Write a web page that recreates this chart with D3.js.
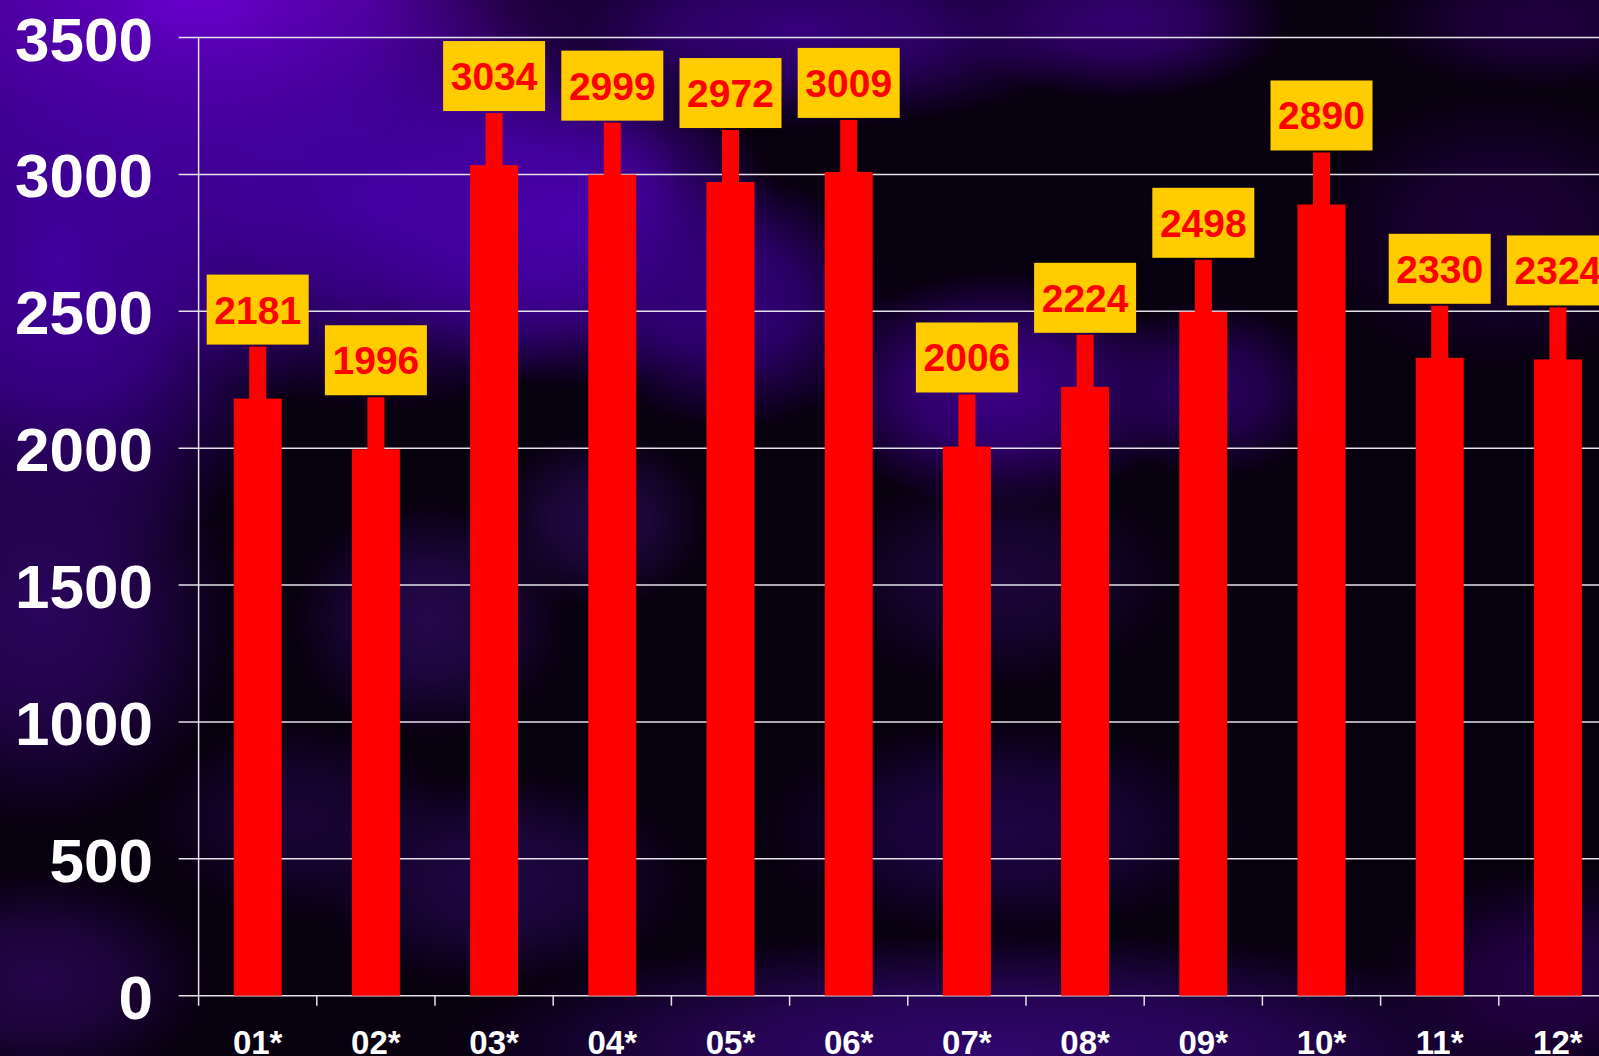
<!DOCTYPE html>
<html>
<head>
<meta charset="utf-8">
<script src="https://cdn.jsdelivr.net/npm/d3@7"></script>
<style>
  html, body { margin: 0; padding: 0; background: #000; overflow: hidden; }
  svg { display: block; }
  text { font-family: "Liberation Sans", Arial, sans-serif; font-weight: bold; }
</style>
</head>
<body>
<div id="chart"></div>
<script>
const months = ["01*", "02*", "03*", "04*", "05*", "06*", "07*", "08*", "09*", "10*", "11*", "12*"];
const values = [2181, 1996, 3034, 2999, 2972, 3009, 2006, 2224, 2498, 2890, 2330, 2324];
const yTicks = [0, 500, 1000, 1500, 2000, 2500, 3000, 3500];
const errorAmount = 190;

const width = 1599, height = 1056;

// background clouds: cx, cy, rx, ry, colour
const clouds = [
    [180, 0, 420, 260, "#6a00d0"],
    [60, 260, 260, 320, "#4200a0"],
    [380, 200, 300, 210, "#4400a4"],
    [570, 220, 210, 170, "#4a00ac"],
    [730, 300, 160, 130, "#34007e"],
    [800, 30, 300, 100, "#36007c"],
    [1120, 20, 170, 80, "#340072"],
    [1540, 20, 170, 70, "#200040"],
    [1000, 390, 190, 120, "#3c0088"],
    [1210, 390, 120, 90, "#2a005e"],
    [1500, 230, 190, 140, "#1c0038"],
    [40, 610, 200, 220, "#2a055c"],
    [430, 620, 140, 120, "#24084c"],
    [600, 520, 110, 90, "#220844"],
    [1000, 580, 180, 110, "#1c053a"],
    [40, 980, 170, 110, "#24054a"],
    [500, 880, 190, 110, "#200644"],
    [1000, 830, 240, 110, "#1e0444"],
    [1000, 1050, 560, 120, "#30066c"],
    [1550, 980, 170, 110, "#240046"],
    [300, 820, 150, 100, "#1a0436"]
];

const svg = d3.select("#chart").append("svg")
    .attr("width", width)
    .attr("height", height);

const defs = svg.append("defs");

clouds.forEach((c, i) => {
    const g = defs.append("radialGradient").attr("id", "cloud" + i);
    g.append("stop").attr("offset", "0%").attr("stop-color", c[4]).attr("stop-opacity", 1);
    g.append("stop").attr("offset", "45%").attr("stop-color", c[4]).attr("stop-opacity", 0.75);
    g.append("stop").attr("offset", "100%").attr("stop-color", c[4]).attr("stop-opacity", 0);
});

svg.append("rect")
    .attr("width", width)
    .attr("height", height)
    .attr("fill", "#07000e");

svg.append("g")
    .selectAll("ellipse")
    .data(clouds)
    .enter().append("ellipse")
    .attr("cx", d => d[0])
    .attr("cy", d => d[1])
    .attr("rx", d => d[2])
    .attr("ry", d => d[3])
    .attr("fill", (d, i) => `url(#cloud${i})`);

const x0 = 198.6;
const step = 118.2;

const x = d3.scaleBand()
    .domain(months)
    .range([x0, x0 + step * months.length]);

const y = d3.scaleLinear()
    .domain([0, 3500])
    .range([995.7, 37.5]);

const gridColor = "#e2e2e8";

// gridlines + left tick stubs
svg.append("g")
    .selectAll("line")
    .data(yTicks)
    .enter().append("line")
    .attr("x1", x0 - 20)
    .attr("x2", width)
    .attr("y1", d => y(d))
    .attr("y2", d => y(d))
    .attr("stroke", gridColor)
    .attr("stroke-width", 1.5);

// y axis line
svg.append("line")
    .attr("x1", x0).attr("x2", x0)
    .attr("y1", y(3500)).attr("y2", y(0) + 10)
    .attr("stroke", gridColor)
    .attr("stroke-width", 1.5);

// x tick marks at band edges
svg.append("g")
    .selectAll("line")
    .data(months.slice(1))
    .enter().append("line")
    .attr("x1", d => x(d))
    .attr("x2", d => x(d))
    .attr("y1", y(0))
    .attr("y2", y(0) + 10)
    .attr("stroke", gridColor)
    .attr("stroke-width", 1.5);

// y labels
svg.append("g")
    .selectAll("text")
    .data(yTicks)
    .enter().append("text")
    .attr("x", 153)
    .attr("y", d => y(d) + 23)
    .attr("text-anchor", "end")
    .attr("fill", "#ffffff")
    .style("font-size", "62px")
    .text(d => d);

// x labels
svg.append("g")
    .selectAll("text")
    .data(months)
    .enter().append("text")
    .attr("x", d => x(d) + x.bandwidth() / 2)
    .attr("y", 1054)
    .attr("text-anchor", "middle")
    .attr("fill", "#ffffff")
    .style("font-size", "33px")
    .text(d => d);

const barW = 48;
const stemW = 17;

const bars = svg.append("g")
    .selectAll("g")
    .data(months.map((m, i) => ({ month: m, value: values[i] })))
    .enter().append("g");

bars.append("rect")
    .attr("x", d => x(d.month) + x.bandwidth() / 2 - barW / 2)
    .attr("y", d => y(d.value))
    .attr("width", barW)
    .attr("height", d => y(0) - y(d.value))
    .attr("fill", "#ff0000");

// fixed-size error bar drawn as a thick stem
bars.append("rect")
    .attr("x", d => x(d.month) + x.bandwidth() / 2 - stemW / 2)
    .attr("y", d => y(d.value + errorAmount))
    .attr("width", stemW)
    .attr("height", d => y(d.value) - y(d.value + errorAmount) + 1)
    .attr("fill", "#ff0000");

const boxW = 102, boxH = 70;

bars.append("rect")
    .attr("x", d => x(d.month) + x.bandwidth() / 2 - boxW / 2)
    .attr("y", d => y(d.value + errorAmount) - 2 - boxH)
    .attr("width", boxW)
    .attr("height", boxH)
    .attr("fill", "#ffcc00");

bars.append("text")
    .attr("x", d => x(d.month) + x.bandwidth() / 2)
    .attr("y", d => y(d.value + errorAmount) - 2 - boxH / 2 + 14)
    .attr("text-anchor", "middle")
    .attr("fill", "#ff0000")
    .style("font-size", "39px")
    .text(d => d.value);
</script>
</body>
</html>
